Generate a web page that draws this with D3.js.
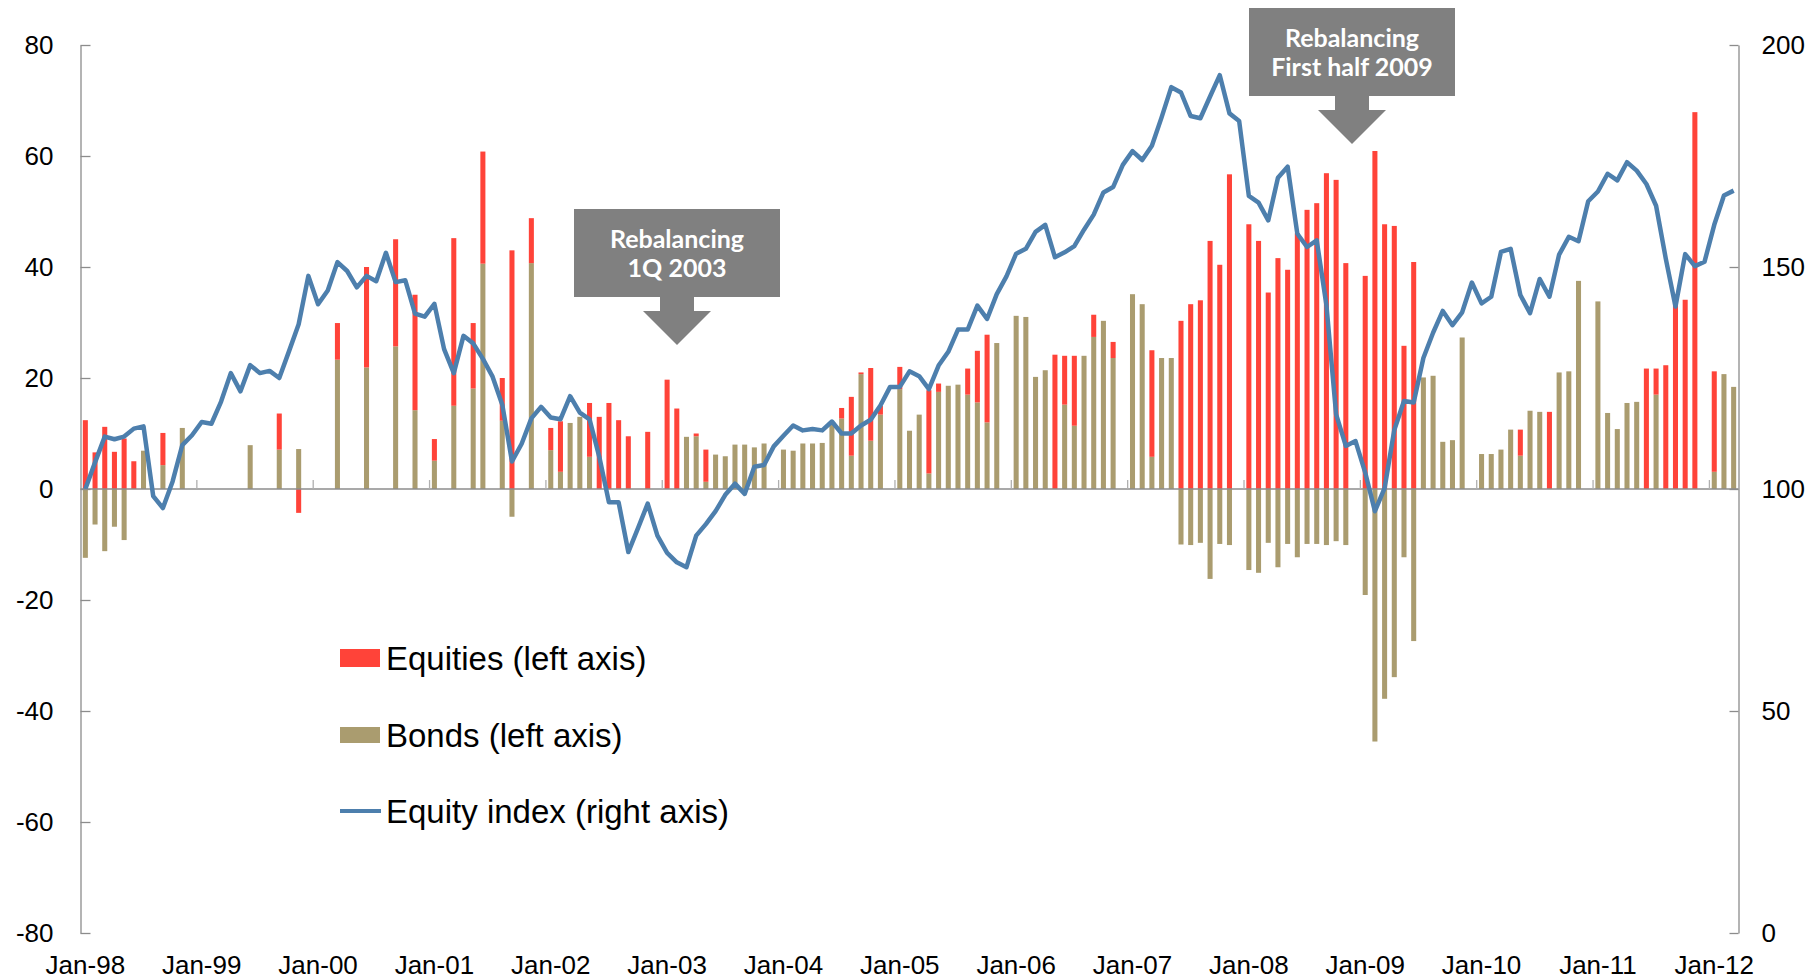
<!DOCTYPE html>
<html>
<head>
<meta charset="utf-8">
<script src="https://cdn.jsdelivr.net/npm/d3@7"></script>
<style>
  body { margin: 0; background: #fff; }
  svg { display: block; font-family: "Liberation Sans", Arial, sans-serif; }
</style>
</head>
<body>
<svg id="chart" width="1818" height="980"></svg>
<script>
// monthly flows Jan-98 .. Mar-12 (171 months)
const startMonth = new Date(1998, 0, 1);
const months = d3.timeMonth.range(startMonth, new Date(2012, 3, 1));

const equities = [
  12.4, 6.6, 11.2, 6.7, 9.1, 5.0, 0, 0, 5.8, 0, 0, 0,
  0, 0, 0, 0, 0, 0, 0, 0, 6.5, 0, -4.3, 0,
  0, 0, 6.6, 0, 0, 18.1, 0, 0, 19.3, 0, 20.8, 0,
  3.9, 0, 30.2, 0, 11.8, 20.2, 0, 7.7, 43.0, 0, 8.1, 0,
  4.0, 9.1, 0, 0, 9.7, 13.0, 15.5, 12.4, 9.5, 0, 10.3, 0,
  19.7, 14.5, 0, 0.5, 5.8, 0, 0, 0, 0, 0, 0, 0,
  0, 0, 0, 0, 0, 0, 1.9, 10.6, 0.3, 13.1, 1.6, 0,
  4.0, 0, 0, 15.0, 1.5, 0, 0, 4.7, 9.3, 15.8, 0, 0,
  0, 0, 0, 0, 24.2, 8.8, 12.6, 0, 4.0, 0, 2.9, 0,
  0, 0, 19.2, 0, 0, 30.3, 33.3, 34.0, 44.7, 40.4, 56.7, 0,
  47.7, 44.7, 35.4, 41.6, 39.5, 46.1, 50.3, 51.5, 56.9, 55.7, 40.7, 0,
  38.4, 60.9, 47.7, 47.4, 25.8, 40.9, 0, 0, 0, 0, 0, 0,
  0, 0, 0, 0, 4.7, 0, 0, 13.9, 0, 0, 0, 0,
  0, 0, 0, 0, 0, 21.7, 4.7, 22.3, 33.5, 34.1, 67.9, 0,
  18.1, 0, 0
];

const bonds = [
  -12.4, -6.4, -11.2, -6.8, -9.2, 0, 6.9, 0, 4.3, 0, 11.0, 0,
  0, 0, 0, 0, 0, 7.9, 0, 0, 7.1, 0, 7.2, 0,
  0, 0, 23.3, 0, 0, 21.9, 0, 0, 25.7, 0, 14.2, 0,
  5.1, 0, 15.0, 0, 18.1, 40.6, 0, 12.3, -5.0, 0, 40.7, 0,
  7.0, 3.1, 11.9, 13.0, 5.8, 0, 0, 0, 0, 0, 0, 0,
  0, 0, 9.4, 9.5, 1.3, 6.2, 5.9, 8.0, 8.0, 7.5, 8.2, 0,
  7.1, 6.9, 8.2, 8.2, 8.3, 11.6, 12.7, 6.0, 20.7, 8.7, 13.4, 0,
  18.0, 10.5, 13.4, 2.8, 17.5, 18.6, 18.8, 17.0, 15.6, 12.0, 26.3, 0,
  31.2, 31.0, 20.2, 21.4, 0, 15.2, 11.4, 24.0, 27.4, 30.3, 23.6, 0,
  35.1, 33.3, 5.8, 23.6, 23.6, -10.0, -10.1, -9.7, -16.2, -9.9, -10.1, 0,
  -14.6, -15.1, -9.7, -14.1, -9.9, -12.3, -9.9, -9.9, -10.1, -9.4, -10.1, 0,
  -19.1, -45.5, -37.8, -33.9, -12.3, -27.4, 20.1, 20.4, 8.5, 8.8, 27.3, 0,
  6.3, 6.3, 7.1, 10.7, 6.0, 14.1, 13.9, 0, 21.0, 21.2, 37.5, 0,
  33.8, 13.7, 10.8, 15.5, 15.7, 0, 17.0, 0, 0, 0, 0, 0,
  3.1, 20.7, 18.4
];

const equityIndex = [
  100, 106, 111.8, 111.2, 111.8, 113.6, 114.1, 98.4, 95.7, 101.7, 109.9, 112.1,
  115.1, 114.7, 119.7, 126.1, 122.0, 127.9, 126.1, 126.6, 125.0, 131.0, 137.1, 148.0,
  141.6, 144.7, 151.1, 149.1, 145.4, 148.0, 146.8, 153.2, 146.6, 147.0, 139.5, 138.8,
  141.7, 131.5, 126.1, 134.5, 132.8, 129.3, 125.3, 119.0, 106.2, 110.2, 115.9, 118.5,
  116.1, 115.7, 120.9, 117.2, 115.7, 107.3, 97.0, 97.0, 85.8, 91.2, 96.7, 89.5,
  85.6, 83.5, 82.4, 89.5, 92.1, 95.0, 98.7, 101.2, 98.9, 105.0, 105.4, 109.6,
  112.0, 114.3, 113.2, 113.5, 113.2, 115.2, 112.5, 112.5, 114.3, 115.6, 118.8, 123.0,
  123.0, 126.5, 125.4, 122.5, 127.8, 130.9, 135.9, 135.9, 141.3, 138.3, 143.9, 147.9,
  153.0, 154.1, 157.9, 159.5, 152.2, 153.3, 154.7, 158.4, 161.8, 166.8, 168.0, 173.0,
  176.1, 174.1, 177.3, 183.7, 190.5, 189.3, 184.0, 183.5, 188.4, 193.2, 184.6, 182.9,
  166.0, 164.5, 160.5, 170.1, 172.6, 157.5, 154.5, 156.0, 141.4, 116.8, 109.7, 110.8,
  103.7, 95.0, 100.2, 113.3, 119.8, 119.5, 129.5, 135.2, 140.1, 136.9, 139.8, 146.5,
  141.8, 143.3, 153.4, 154.1, 143.7, 139.6, 147.3, 143.3, 152.8, 156.8, 155.8, 164.8,
  167.0, 171.0, 169.5, 173.6, 171.7, 168.7, 163.8, 151.9, 141.1, 152.9, 150.2, 151.2,
  159.5, 166.1, 167.2
];

const leftTicks = [-80, -60, -40, -20, 0, 20, 40, 60, 80];
const rightTicks = [0, 50, 100, 150, 200];
const yearLabels = ["Jan-98", "Jan-99", "Jan-00", "Jan-01", "Jan-02", "Jan-03", "Jan-04",
  "Jan-05", "Jan-06", "Jan-07", "Jan-08", "Jan-09", "Jan-10", "Jan-11", "Jan-12"];

const legendItems = ["Equities (left axis)", "Bonds (left axis)", "Equity index (right axis)"];
const notes = [
  { lines: ["Rebalancing", "1Q 2003"], cx: 677, top: 209 },
  { lines: ["Rebalancing", "First half 2009"], cx: 1352, top: 8 }
];

const colors = { equities: "#ff4339", bonds: "#aa9c6f", index: "#4d7fad", axis: "#8c8c8c" };

const rows = months.map((m, i) => ({ i: i, equities: equities[i], bonds: bonds[i] }));

const margin = { left: 80.5, right: 1738.5, top: 45, bottom: 933 };
const svg = d3.select("#chart");

const x = d3.scaleBand()
  .domain(d3.range(months.length))
  .range([margin.left, margin.right])
  .paddingInner(0.48)
  .paddingOuter(0.24);
const yL = d3.scaleLinear().domain([-80, 80]).range([margin.bottom, margin.top]);
const yR = d3.scaleLinear().domain([0, 200]).range([margin.bottom, margin.top]);

// stacked bars, bonds at the base
const series = d3.stack()
  .keys(["bonds", "equities"])
  .offset(d3.stackOffsetDiverging)(rows);

svg.append("g")
  .selectAll("g")
  .data(series)
  .enter()
  .append("g")
  .attr("fill", (s) => colors[s.key])
  .selectAll("rect")
  .data((s) => s)
  .enter()
  .append("rect")
  .attr("x", (d) => x(d.data.i))
  .attr("width", x.bandwidth())
  .attr("y", (d) => yL(Math.max(d[0], d[1])))
  .attr("height", (d) => Math.abs(yL(d[0]) - yL(d[1])));

// zero line + year boundary ticks
const zeroY = yL(0);
svg.append("line")
  .attr("x1", margin.left).attr("x2", margin.right)
  .attr("y1", zeroY).attr("y2", zeroY)
  .attr("stroke", colors.axis).attr("stroke-width", 1.3);

const step = x.step();
svg.append("g")
  .selectAll("line")
  .data(d3.range(11.5, months.length, 12))
  .enter()
  .append("line")
  .attr("x1", (d) => margin.left + (d + 0.5) * step)
  .attr("x2", (d) => margin.left + (d + 0.5) * step)
  .attr("y1", zeroY)
  .attr("y2", zeroY - 9)
  .attr("stroke", "#b0b0b0")
  .attr("stroke-width", 1.3);

// equity index line
const line = d3.line()
  .x((d, i) => x(i) + x.bandwidth() / 2)
  .y((d) => yR(d));

svg.append("path")
  .datum(equityIndex)
  .attr("fill", "none")
  .attr("stroke", colors.index)
  .attr("stroke-width", 4.5)
  .attr("stroke-linejoin", "round")
  .attr("d", line);

// axes
const plain = (d) => String(d);
const leftAxis = svg.append("g")
  .attr("transform", `translate(${margin.left},0)`)
  .call(d3.axisLeft(yL).tickValues(leftTicks).tickFormat(plain)
    .tickSizeInner(-10).tickSizeOuter(0).tickPadding(27));
const rightAxis = svg.append("g")
  .attr("transform", `translate(${margin.right},0)`)
  .call(d3.axisRight(yR).tickValues(rightTicks).tickFormat(plain)
    .tickSizeInner(-9).tickSizeOuter(0).tickPadding(23));

const bottomAxis = svg.append("g")
  .attr("transform", `translate(0,${margin.bottom})`)
  .call(d3.axisBottom(x)
    .tickValues(d3.range(0, months.length, 12))
    .tickFormat((d) => yearLabels[d / 12])
    .tickSize(0)
    .tickPadding(23));
bottomAxis.select(".domain").remove();

[leftAxis, rightAxis].forEach((g) => {
  g.select(".domain").attr("stroke", colors.axis).attr("stroke-width", 1.3);
  g.selectAll(".tick line").attr("stroke", colors.axis).attr("stroke-width", 1.3);
});
[leftAxis, rightAxis, bottomAxis].forEach((g) => {
  g.selectAll("text")
    .attr("fill", "#000")
    .style("font-size", "26px")
    .style("font-family", "'Liberation Sans', Arial, sans-serif");
});

// legend
const legend = svg.append("g").attr("transform", "translate(340,0)");
const legendY = [658, 735, 811];
legend.append("rect").attr("x", 0).attr("y", legendY[0] - 9).attr("width", 40).attr("height", 18).attr("fill", colors.equities);
legend.append("rect").attr("x", 0).attr("y", legendY[1] - 8).attr("width", 40).attr("height", 16).attr("fill", colors.bonds);
legend.append("line").attr("x1", 0).attr("x2", 41).attr("y1", legendY[2]).attr("y2", legendY[2])
  .attr("stroke", colors.index).attr("stroke-width", 4);
legend.selectAll("text")
  .data(legendItems)
  .enter()
  .append("text")
  .attr("x", 46)
  .attr("y", (d, i) => legendY[i] + 11.5)
  .style("font-size", "33px")
  .text((d) => d);

// annotation boxes with arrows
const boxW = 206, boxH = 88;
notes.forEach((n) => {
  const g = svg.append("g").attr("fill", "#808080");
  g.append("rect")
    .attr("x", n.cx - boxW / 2).attr("y", n.top)
    .attr("width", boxW).attr("height", boxH);
  const b = n.top + boxH;
  g.append("polygon")
    .attr("points", [
      [n.cx - 17, b], [n.cx + 17, b], [n.cx + 17, b + 14], [n.cx + 34, b + 14],
      [n.cx, b + 48], [n.cx - 34, b + 14], [n.cx - 17, b + 14]
    ].map((p) => p.join(",")).join(" "));
  g.selectAll("text")
    .data(n.lines)
    .enter()
    .append("text")
    .attr("x", n.cx)
    .attr("y", (d, i) => n.top + 39 + i * 28.5)
    .attr("text-anchor", "middle")
    .attr("fill", "#fff")
    .style("font-family", "Lato, 'Open Sans', sans-serif")
    .style("font-weight", "bold")
    .style("font-size", "25px")
    .text((d) => d);
});
</script>
</body>
</html>
